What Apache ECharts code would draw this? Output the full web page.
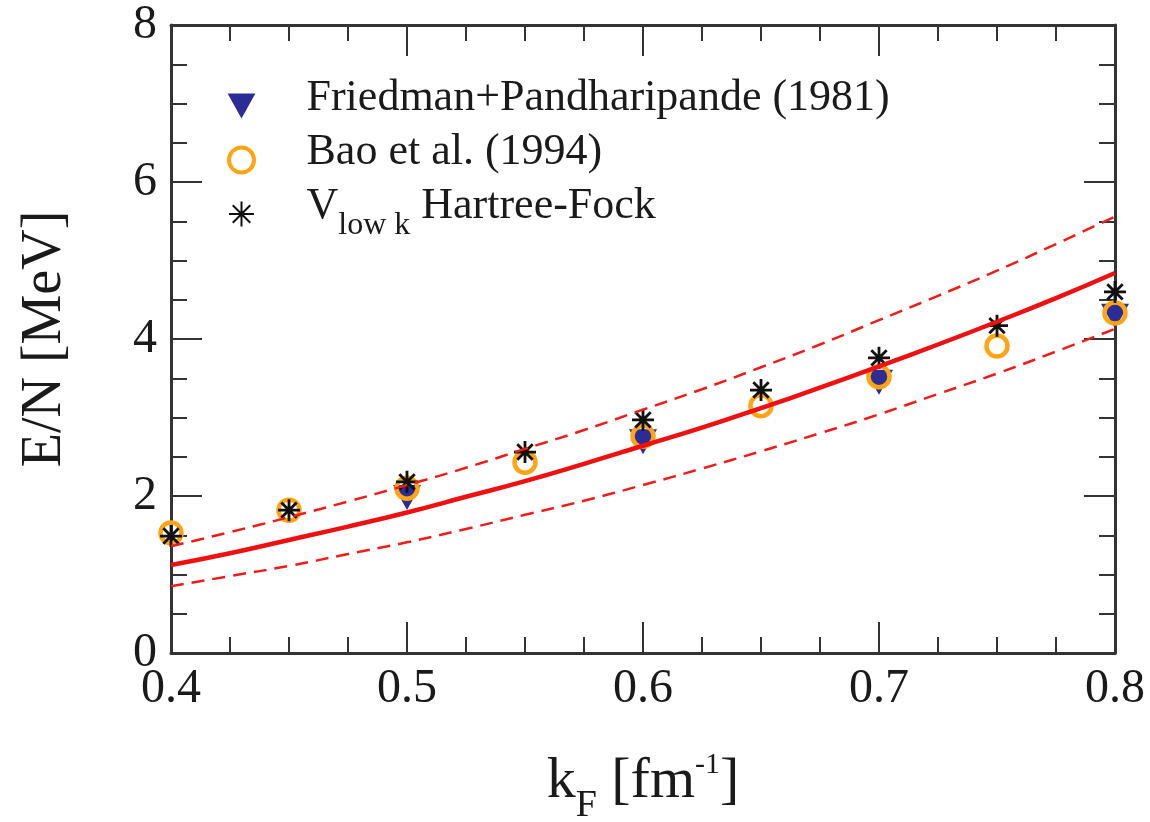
<!DOCTYPE html>
<html><head><meta charset="utf-8">
<script src="https://cdn.jsdelivr.net/npm/echarts@6/dist/echarts.min.js"></script>
<style>html,body{margin:0;padding:0;background:#fff}#c{width:1150px;height:822px}</style>
</head><body><div id="c"></div>
<script>
// ---- data ----
const kCurve   = [0.4,0.425,0.45,0.475,0.5,0.525,0.55,0.575,0.6,0.625,0.65,0.675,0.7,0.725,0.75,0.775,0.8];
const eCentral = [1.12,1.27,1.44,1.61,1.79,1.99,2.19,2.41,2.64,2.87,3.12,3.38,3.65,3.93,4.22,4.52,4.84];
const eUpper   = [1.36,1.54,1.73,1.93,2.14,2.36,2.60,2.84,3.10,3.36,3.64,3.93,4.24,4.55,4.87,5.21,5.56];
const eLower   = [0.85,0.98,1.11,1.26,1.41,1.58,1.76,1.94,2.14,2.35,2.57,2.80,3.04,3.30,3.56,3.84,4.13];
const kFP  = [0.5,0.6,0.7,0.8];
const eFP  = [1.98,2.69,3.45,4.29];
const kBao = [0.4,0.45,0.5,0.55,0.6,0.65,0.7,0.75,0.8];
const eBao = [1.53,1.82,2.10,2.43,2.76,3.15,3.52,3.91,4.33];
const kHF  = [0.4,0.45,0.5,0.55,0.6,0.65,0.7,0.75,0.8];
const eHF  = [1.49,1.82,2.18,2.56,2.97,3.35,3.76,4.17,4.60];
const nameFP  = 'Friedman+Pandharipande (1981)';
const nameBao = 'Bao et al. (1994)';
const nameHF  = 'Vlowk Hartree-Fock';

const zip = (a, b) => a.map((v, i) => [v, b[i]]);
const FONT = 'Liberation Serif';
const AX = '#333';
const TXT = '#1a1a1a';

function mkX(show) {
  return {
    type: 'value', min: 0.4, max: 0.8, interval: 0.1, position: show ? 'bottom' : 'top',
    axisLine: {show: true, onZero: false, lineStyle: {color: AX, width: 3}},
    axisTick: {show: true, inside: true, length: 31, lineStyle: {color: AX, width: 2}},
    minorTick: {show: true, splitNumber: 4, length: 16, lineStyle: {color: AX, width: 2}},
    splitLine: {show: false}, minorSplitLine: {show: false},
    axisLabel: {show: show, margin: 12, fontFamily: FONT, fontSize: 48, color: TXT},
    name: show ? '{a|k}{s|F}{a| [fm}{p|-1}{a|]}' : '',
    nameLocation: 'middle', nameGap: 97,
    nameTextStyle: {
      fontFamily: FONT, color: TXT,
      rich: {
        a: {fontFamily: FONT, fontSize: 58, color: TXT, lineHeight: 64},
        s: {fontFamily: FONT, fontSize: 38, color: TXT, lineHeight: 10, verticalAlign: 'top', padding: [37, 0, 0, 0]},
        p: {fontFamily: FONT, fontSize: 30, color: TXT, lineHeight: 10, verticalAlign: 'top', padding: [0, 0, 0, 0]}
      }
    }
  };
}
function mkY(show) {
  return {
    type: 'value', min: 0, max: 8, interval: 2, position: show ? 'left' : 'right',
    axisLine: {show: true, onZero: false, lineStyle: {color: AX, width: 3}},
    axisTick: {show: true, inside: true, length: 31, lineStyle: {color: AX, width: 2}},
    minorTick: {show: true, splitNumber: 4, length: 16, lineStyle: {color: AX, width: 2}},
    splitLine: {show: false}, minorSplitLine: {show: false},
    axisLabel: {show: show, margin: 14, fontFamily: FONT, fontSize: 48, color: TXT},
    name: show ? 'E/N [MeV]' : '',
    nameLocation: 'middle', nameGap: 98, nameRotate: 90,
    nameTextStyle: {fontFamily: FONT, fontSize: 56, color: TXT}
  };
}

const chart = echarts.init(document.getElementById('c'), null, {renderer: 'canvas'});
chart.setOption({
  backgroundColor: '#fff',
  animation: false,
  grid: {left: 171, right: 35, top: 25, bottom: 169, containLabel: false, outerBoundsMode: 'none'},
  xAxis: [mkX(true), mkX(false)],
  yAxis: [mkY(true), mkY(false)],
  legend: {
    data: [
      {name: nameFP},
      {name: nameBao, itemStyle: {color: 'rgba(0,0,0,0)', borderColor: '#ffa514', borderWidth: 4}},
      {name: nameHF}
    ],
    orient: 'vertical', left: 222, top: 71, itemGap: -2,
    itemWidth: 120, itemHeight: 25,
    textStyle: {
      fontFamily: FONT, fontSize: 44, color: TXT, lineHeight: 36, padding: [0, 0, 16, 0],
      rich: {
        v: {fontFamily: FONT, fontSize: 44, color: TXT, lineHeight: 36},
        s: {fontFamily: FONT, fontSize: 32, color: TXT, lineHeight: 8, verticalAlign: 'top', padding: [22, 0, 0, 0]}
      }
    },
    formatter: n => n === nameHF ? '{v|V}{s|low k}{v| Hartree-Fock}' : n
  },
  series: [
    {type: 'line', data: zip(kCurve, eUpper), showSymbol: false, smooth: true,
     lineStyle: {color: '#f01c1c', width: 2.5, type: [13, 8]}},
    {type: 'line', data: zip(kCurve, eLower), showSymbol: false, smooth: true,
     lineStyle: {color: '#f01c1c', width: 2.5, type: [13, 8]}},
    {type: 'line', data: zip(kCurve, eCentral), showSymbol: false, smooth: true,
     lineStyle: {color: '#ee1111', width: 4.5}},
    {name: nameFP, type: 'scatter', data: zip(kFP, eFP),
     symbol: 'path://M0,0L20,0L10,18Z', symbolSize: [28, 25],
     itemStyle: {color: '#2c2c96', opacity: 1}},
    {name: nameBao, type: 'scatter', data: zip(kBao, eBao),
     symbol: 'circle', symbolSize: 21,
     itemStyle: {color: 'rgba(0,0,0,0)', borderColor: '#ffa514', borderWidth: 4.5, opacity: 1}},
    {name: nameHF, type: 'scatter', data: zip(kHF, eHF),
     symbol: 'path://M10,0L10,20M0,10L20,10M3,3L17,17M3,17L17,3', symbolSize: 22,
     itemStyle: {color: '#111', borderColor: '#111', borderWidth: 2.8, opacity: 1}}
  ]
});
</script>
</body></html>
